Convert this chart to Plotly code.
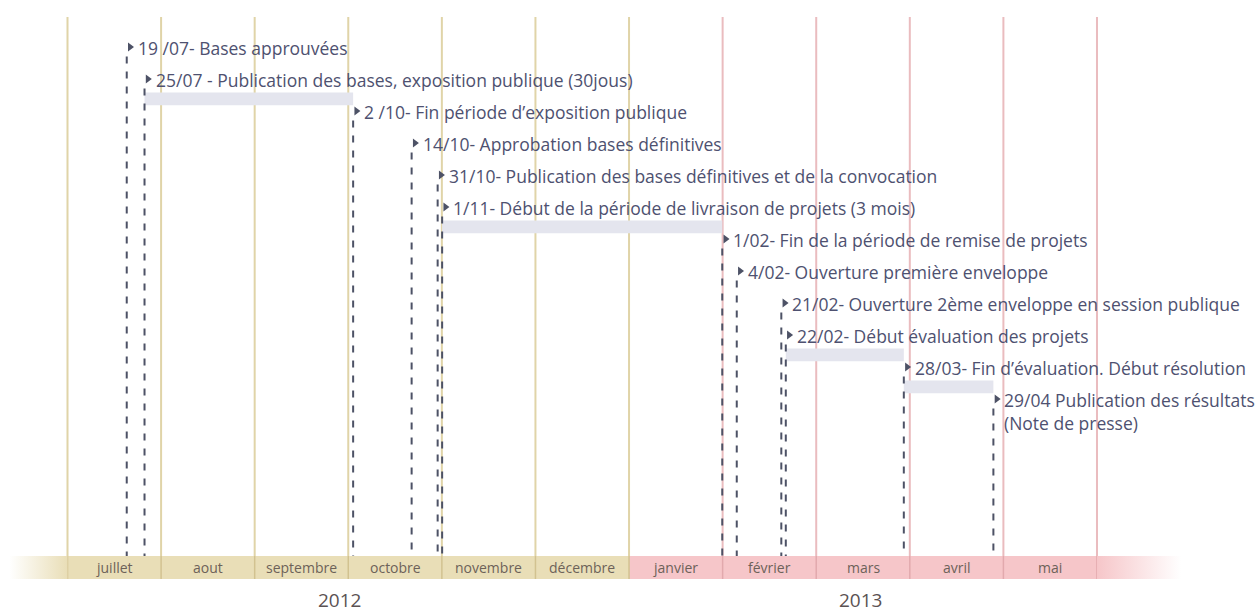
import plotly.graph_objects as go

# ---------------- data ----------------
months = ["juillet", "aout", "septembre", "octobre", "novembre", "décembre",
          "janvier", "février", "mars", "avril", "mai"]
month_year = [2012, 2012, 2012, 2012, 2012, 2012, 2013, 2013, 2013, 2013, 2013]
years = ["2012", "2013"]
year_pos = [2.91, 8.47]          # position (months since 1 July 2012) of the year captions

event_labels = [
    "19 /07- Bases approuvées",
    "25/07 - Publication des bases, exposition publique (30jous)",
    "2 /10- Fin période d’exposition publique",
    "14/10- Approbation bases définitives",
    "31/10- Publication des bases définitives et de la convocation",
    "1/11- Début de la période de livraison de projets (3 mois)",
    "1/02- Fin de la période de remise de projets",
    "4/02- Ouverture première enveloppe",
    "21/02- Ouverture 2ème enveloppe en session publique",
    "22/02- Début évaluation des projets",
    "28/03- Fin d’évaluation. Début résolution",
    "29/04 Publication des résultats<br>(Note de presse)",
]
# position on the (schematic) time line, in months since 1 July 2012
event_pos = [0.633, 0.823, 3.052, 3.677, 3.955, 4.003,
             6.996, 7.151, 7.627, 7.675, 8.936, 9.893]
# periods drawn as grey bars: (start event, end event)
period_start = [1, 5, 9, 10]
period_end = [2, 6, 10, 11]

# ---------------- style ----------------
W, H = 1255, 615
X0_PX, MONTH_PX = 67.5, 93.59
ROW0_PX, ROW_PX = 47, 32

TAN_LINE = "#e0d4a8"
PINK_LINE = "#eabcbf"
TAN_BAND = "#e9deb7"
PINK_BAND = "#f6c6c9"
TAN_SEP = "#d2c290"
PINK_SEP = "#e2a9ad"
DASH = "#4d5266"
TEXT = "#4e5170"
BAR = "#e4e5ee"
FONT = "Open Sans"

def row_of_px(p):
    return (p - ROW0_PX) / ROW_PX

band_top = row_of_px(556)
band_bot = row_of_px(579)
grid_top = row_of_px(17)
month_lbl = row_of_px(567.5)
year_lbl = row_of_px(600)

fig = go.Figure()
shapes = []
annotations = []

n_months = len(months)

# band (month strip)
for i, (m, yr) in enumerate(zip(months, month_year)):
    col = TAN_BAND if yr == 2012 else PINK_BAND
    shapes.append(dict(type="rect", xref="x", yref="y", x0=i, x1=i + 1,
                       y0=band_top, y1=band_bot, fillcolor=col,
                       line=dict(width=0), layer="below"))
    annotations.append(dict(x=i + 0.5, y=month_lbl, xref="x", yref="y", text=m,
                            showarrow=False, xanchor="center", yanchor="middle",
                            font=dict(family=FONT, size=14, color="#6d6259")))

# fading ends of the band
fig.add_trace(go.Scatter(
    x=[-0.62, 0, 0, -0.62, -0.62], y=[band_top, band_top, band_bot, band_bot, band_top],
    mode="lines", line=dict(width=0), fill="toself",
    fillgradient=dict(type="horizontal",
                      colorscale=[[0, "rgba(233,222,183,0)"], [1, "rgba(233,222,183,1)"]]),
    hoverinfo="skip", showlegend=False))
fig.add_trace(go.Scatter(
    x=[n_months, n_months + 0.9, n_months + 0.9, n_months, n_months],
    y=[band_top, band_top, band_bot, band_bot, band_top],
    mode="lines", line=dict(width=0), fill="toself",
    fillgradient=dict(type="horizontal",
                      colorscale=[[0, "rgba(246,198,201,1)"], [1, "rgba(246,198,201,0)"]]),
    hoverinfo="skip", showlegend=False))

# vertical month boundaries (grid + separators in the strip)
for i in range(n_months + 1):
    is2012 = i <= 6
    shapes.append(dict(type="line", xref="x", yref="y", x0=i, x1=i,
                       y0=grid_top, y1=band_top,
                       line=dict(color=TAN_LINE if is2012 else PINK_LINE, width=2),
                       layer="below"))
    shapes.append(dict(type="line", xref="x", yref="y", x0=i, x1=i,
                       y0=band_top, y1=band_bot,
                       line=dict(color=TAN_SEP if is2012 else PINK_SEP, width=1.5),
                       layer="below"))

# grey period bars
for s, e in zip(period_start, period_end):
    shapes.append(dict(type="rect", xref="x", yref="y",
                       x0=event_pos[s], x1=event_pos[e],
                       y0=s + 0.42, y1=s + 0.82,
                       fillcolor=BAR, line=dict(width=0), layer="below"))

# dashed drop lines
for r, xp in enumerate(event_pos):
    shapes.append(dict(type="line", xref="x", yref="y", x0=xp, x1=xp,
                       y0=r + 0.3, y1=band_top,
                       line=dict(color=DASH, width=2, dash="7px,8px"),
                       layer="above"))

# markers
fig.add_trace(go.Scatter(
    x=[p + 0.035 for p in event_pos], y=list(range(len(event_pos))),
    mode="markers",
    marker=dict(symbol="triangle-right", size=8, color=DASH),
    hoverinfo="skip", showlegend=False))

# event labels
for r, (xp, lab) in enumerate(zip(event_pos, event_labels)):
    annotations.append(dict(x=xp, y=r, xref="x", yref="y", text=lab,
                            showarrow=False, xanchor="left", yanchor="top",
                            xshift=9, yshift=13, align="left",
                            font=dict(family=FONT, size=17.5, color=TEXT)))

# year captions
for yr, xp in zip(years, year_pos):
    annotations.append(dict(x=xp, y=year_lbl, xref="x", yref="y", text=yr,
                            showarrow=False, xanchor="center", yanchor="middle",
                            font=dict(family=FONT, size=19, color="#5b5253")))

fig.update_layout(
    width=W, height=H,
    margin=dict(l=0, r=0, t=0, b=0),
    paper_bgcolor="white", plot_bgcolor="white",
    shapes=shapes, annotations=annotations,
    xaxis=dict(range=[-X0_PX / MONTH_PX, (W - X0_PX) / MONTH_PX],
               showgrid=False, zeroline=False, showticklabels=False,
               showline=False, fixedrange=True),
    yaxis=dict(range=[row_of_px(H), row_of_px(0)],
               showgrid=False, zeroline=False, showticklabels=False,
               showline=False, fixedrange=True),
)

fig.write_html("out.html", config={"displayModeBar": False},
               post_script="document.body.style.margin='0';document.body.style.overflow='hidden';")
